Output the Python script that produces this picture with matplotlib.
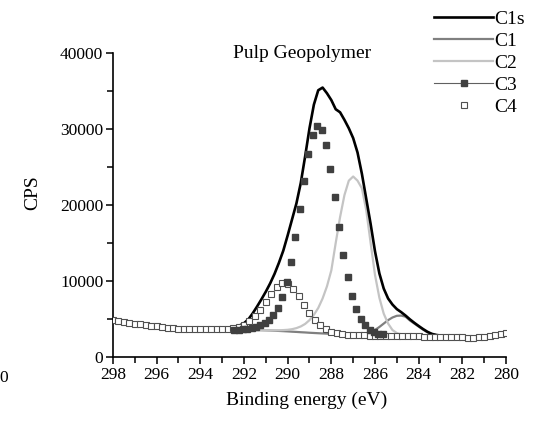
import numpy as np
import matplotlib
matplotlib.use('Agg')
import matplotlib.pyplot as plt
from matplotlib.lines import Line2D
from matplotlib.ticker import MultipleLocator

plt.rcParams['font.family'] = ['Liberation Serif', 'DejaVu Serif']

# x grids (binding energy, eV)
e_c1s = np.round(np.arange(292.2, 282.79, -0.2), 2)
e_fit = np.round(np.arange(293.0, 279.99, -0.2), 2)
e_c3 = np.round(np.arange(292.45, 285.64, -0.2), 2)
e_c4 = np.round(np.arange(298.0, 279.99, -0.25), 2)

# measured envelope
c1s = [4150, 4450, 4950, 5750, 6650, 7600, 8600, 9700, 10950, 12400,
       14000, 16000, 18100, 20200, 22900, 26400, 30100, 33200, 35100, 35450,
       34700, 33800, 32600, 32200, 31200, 30100, 28800, 26900, 24100, 20800,
       17500, 13900, 11000, 9000, 7700, 6900, 6300, 5900, 5450, 4950,
       4500, 4080, 3680, 3320, 3050, 2900, 2820, 2780]

# fitted components
c1 = [3610, 3600, 3600, 3590, 3580, 3570, 3560, 3550, 3540, 3530,
      3510, 3490, 3460, 3430, 3400, 3370, 3330, 3300, 3260, 3230,
      3190, 3160, 3130, 3100, 3070, 3040, 3010, 2990, 2970, 2960,
      2950, 2960, 2990, 3060, 3250, 3550, 3950, 4400, 4850, 5200,
      5420, 5450, 5300, 4800, 4400, 4000, 3600, 3250, 3030, 2900,
      2830, 2780, 2750, 2730, 2720, 2700, 2690, 2690, 2700, 2710,
      2730, 2740, 2760, 2780, 2800, 2820]

c2 = [3600, 3600, 3590, 3580, 3570, 3560, 3550, 3540, 3530, 3520,
      3520, 3510, 3510, 3520, 3540, 3580, 3660, 3800, 4020, 4350,
      4850, 5550, 6450, 7700, 9300, 11400, 15000, 18400, 21300, 23200,
      23750, 23200, 22200, 19300, 15000, 10800, 7800, 5700, 4400, 3550,
      3150, 2950, 2870, 2830, 2810, 2800, 2790, 2780, 2780, 2770,
      2760, 2750, 2740, 2730, 2720, 2700, 2690, 2690, 2700, 2710,
      2730, 2740, 2760, 2780, 2800, 2820]

c3 = [3520, 3560, 3620, 3700, 3800, 3950, 4150, 4450, 4900, 5550,
      6450, 7900, 9900, 12450, 15750, 19450, 23200, 26650, 29250, 30350,
      29900, 27900, 24750, 21000, 17100, 13450, 10500, 8050, 6300, 5000,
      4200, 3600, 3250, 3080, 2980]

c4 = [4850, 4750, 4620, 4500, 4380, 4280, 4190, 4100, 4020, 3940,
      3860, 3780, 3700, 3670, 3650, 3640, 3640, 3640, 3650, 3660,
      3680, 3720, 3800, 3950, 4250, 4700, 5350, 6200, 7200, 8250,
      9150, 9750, 9650, 9000, 8000, 6850, 5750, 4850, 4150, 3650,
      3350, 3150, 3030, 2960, 2910, 2870, 2840, 2810, 2790, 2770,
      2760, 2750, 2740, 2730, 2720, 2710, 2700, 2690, 2690, 2680,
      2670, 2660, 2640, 2610, 2580, 2560, 2560, 2580, 2650, 2780,
      2900, 3000, 3100]

fig = plt.figure(figsize=(5.36, 4.25), dpi=100)
ax = fig.add_axes([113 / 536, 68 / 425, 393 / 536, 304 / 425])

ax.plot(e_c1s, c1s, color='black', lw=1.9, zorder=3)
ax.plot(e_fit, c1, color='#808080', lw=1.6, zorder=2)
ax.plot(e_fit, c2, color='#c4c4c4', lw=1.6, zorder=2)
ax.plot(e_c4, c4, ls='none', marker='s', ms=3.8, mfc='white', mec='#505050',
        mew=0.8, zorder=4)
ax.plot(e_c3, c3, ls='none', marker='s', ms=3.9, mfc='#404040', mec='#404040',
        zorder=5)

ax.set_xlim(298, 280)
ax.set_ylim(0, 40000)
ax.xaxis.set_major_locator(MultipleLocator(2))
ax.xaxis.set_minor_locator(MultipleLocator(1))
ax.yaxis.set_major_locator(MultipleLocator(10000))
ax.yaxis.set_minor_locator(MultipleLocator(5000))
ax.tick_params(which='both', direction='out', width=1.1, labelsize=12.5, pad=2)
ax.tick_params(which='major', length=5)
ax.tick_params(which='minor', length=4)
for s in ['top', 'right']:
    ax.spines[s].set_visible(False)
for s in ['left', 'bottom']:
    ax.spines[s].set_linewidth(1.2)

fig.text(302 / 536, 1 - 53 / 425, 'Pulp Geopolymer', ha='center', va='center', fontsize=14)
fig.text(307 / 536, 1 - 400 / 425, 'Binding energy (eV)', ha='center', va='center', fontsize=14)
fig.text(33 / 536, 1 - 193 / 425, 'CPS', ha='center', va='center', rotation=90, fontsize=14)
fig.text(4 / 536, 1 - 378 / 425, '0', ha='center', va='center', fontsize=12.5)

handles = [
    Line2D([], [], color='black', lw=1.9),
    Line2D([], [], color='#808080', lw=1.6),
    Line2D([], [], color='#c4c4c4', lw=1.6),
    Line2D([], [], color='#606060', lw=0.8, marker='s', ms=3.9,
           mfc='#404040', mec='#404040'),
    Line2D([], [], ls='none', marker='s', ms=3.8, mfc='white', mec='#505050', mew=0.8),
]
fig.legend(handles, ['C1s', 'C1', 'C2', 'C3', 'C4'], loc='upper right',
           bbox_to_anchor=(538 / 536, 1 + 3 / 425), frameon=False, fontsize=14,
           handlelength=3.0, handletextpad=0.05, labelspacing=0.22, borderpad=0.2)

fig.savefig('out.png', dpi=100)
